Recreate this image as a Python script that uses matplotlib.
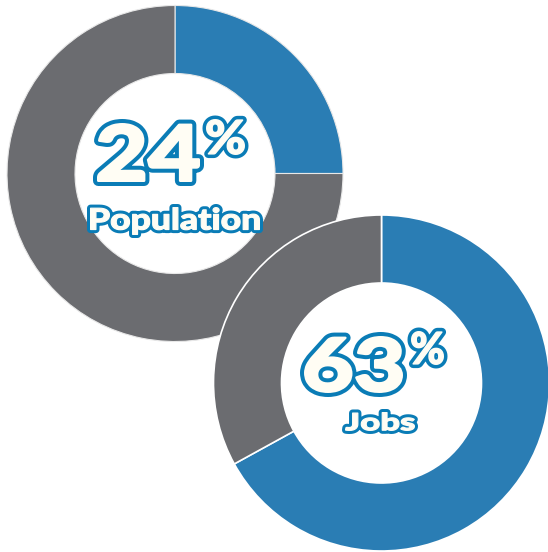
import matplotlib
matplotlib.use("Agg")
import matplotlib.pyplot as plt
from matplotlib.textpath import TextPath
from matplotlib.patches import PathPatch
from matplotlib.font_manager import FontProperties
from matplotlib.transforms import Affine2D

# wedge shares as drawn (blue part first)
pop_share = [25, 75]
jobs_share = [67, 33]

# labels
big_labels = ["24", "63"]
small_labels = ["Population", "Jobs"]

blue = "#2a7db4"
gray = "#6b6c70"
outline = "#0a7cb6"
fill = "#fffdf4"

W, H = 548, 552
fig = plt.figure(figsize=(W / 100, H / 100), dpi=100)
ax = fig.add_axes([0, 0, 1, 1])

# donut 1 (top left)
ax.pie(pop_share, colors=[blue, gray], startangle=90, counterclock=False,
       radius=168, center=(175, H - 173.5),
       wedgeprops=dict(width=68, edgecolor="#e8e8e8", linewidth=0.8))
# donut 2 (bottom right), drawn over the first
ax.pie(jobs_share, colors=[blue, gray], startangle=90, counterclock=False,
       radius=168, center=(381.5, H - 383),
       wedgeprops=dict(width=68, edgecolor="white", linewidth=1.2))

ax.set_xlim(0, W)
ax.set_ylim(0, H)
ax.set_aspect("equal")
ax.axis("off")

font = FontProperties(family="Lato", weight="black")
PT = 0.72  # points per pixel at dpi 100


def put_text(s, x0, x1, ytop, ybot, band, thick):
    # fit glyph outline into the box (pixel coords, y from top),
    # leaving room for the extra fill thickening
    h = thick / 2
    p = TextPath((0, 0), s, size=100, prop=font)
    ext = p.get_extents()
    sx = (x1 - x0 - thick) / ext.width
    sy = (ybot - ytop - thick) / ext.height
    tr = (Affine2D().translate(-ext.x0, -ext.y0).scale(sx, sy)
          .translate(x0 + h, H - ybot + h))
    p2 = tr.transform_path(p)
    ax.add_patch(PathPatch(p2, facecolor=outline, edgecolor=outline,
                           linewidth=(thick + 2 * band) * PT,
                           joinstyle="round", zorder=5))
    ax.add_patch(PathPatch(p2, facecolor=fill, edgecolor=fill,
                           linewidth=thick * PT, joinstyle="round", zorder=6))


# 24% Population
put_text(big_labels[0], 97, 200, 123, 182, 4.0, 2.5)
put_text("%", 206, 245, 119, 155, 3.5, 1.5)
put_text(small_labels[0], 90, 260, 207, 235, 3.0, 1.2)

# 63% Jobs
put_text(big_labels[1], 304, 403, 336, 393, 4.0, 2.5)
put_text("%", 411, 444, 331, 365, 3.5, 1.5)
put_text(small_labels[1], 345, 415, 412, 431, 3.0, 1.2)

fig.savefig("out.png", dpi=100)
